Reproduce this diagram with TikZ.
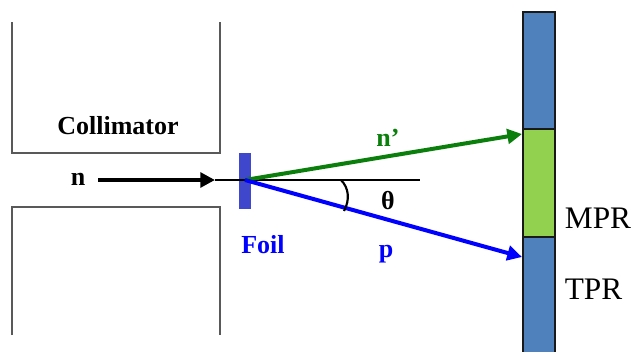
\documentclass[tikz,border=0pt]{standalone}
\usepackage{fontspec}
\setmainfont{Liberation Serif}
\usetikzlibrary{arrows.meta}
\definecolor{barblue}{HTML}{4F81BD}
\definecolor{barleaf}{HTML}{92D050}
\definecolor{foilblue}{HTML}{3F48CC}
\definecolor{ngreen}{HTML}{0B7F0B}
\tikzset{
  px/.style={x=0.75pt,y=-0.75pt},
  wall/.style={draw=black!65,line width=0.85pt},
  seg/.style={draw=black!90,line width=1.5pt,inner sep=0pt,minimum width=24pt,anchor=north west},
  ray/.style={line width=3pt,-{Triangle[length=11pt,width=11pt]}},
  lab/.style={font=\bfseries\fontsize{19.5}{21}\selectfont,inner sep=0pt},
  side/.style={font=\fontsize{23.5}{26}\selectfont,inner sep=0pt}
}
\begin{document}
\begin{tikzpicture}[px]
\useasboundingbox (0,0) rectangle (632,351);
\draw[wall] (12,22) -- (12,153) -- (220,153) -- (220,22);
\draw[wall] (12,335) -- (12,207) -- (220,207) -- (220,335);
\node[fill=foilblue,minimum width=8.5pt,minimum height=42pt,inner sep=0pt] (foil) at (245,181) {};
\node[seg,fill=barblue,minimum height=87.75pt] (top) at (522,11) {};
\node[seg,fill=barleaf,minimum height=81pt] (mid) at (522,128) {};
\node[seg,fill=barblue,minimum height=90pt] (bot) at (522,236) {};
\coordinate (hit) at (245,180);
\coordinate (end) at (420,180);
\coordinate (nstart) at (98,180);
\coordinate (nstop) at (215,180);
\coordinate (nhit) at (522,134);
\coordinate (phit) at (522,257);
\coordinate (arcA) at (341,180);
\coordinate (arcB) at (344,211);
\draw[line width=1.6pt] (nstop) -- (end);
\draw[ray,black] (nstart) -- (nstop);
\draw[ray,ngreen] (hit) -- (nhit);
\draw[ray,blue] (hit) -- (phit);
\draw[line width=1.6pt] (arcA) .. controls (349,188) and (350,200) .. (arcB);
\node[lab] (coll) at (118,126) {Collimator};
\node[lab] (nlab) at (78,179) {n};
\node[lab,text=ngreen] (nplab) at (388,138) {n’};
\node[lab] (thlab) at (388,201) {θ};
\node[lab,text=blue] (plab) at (386,254) {p};
\node[lab,text=blue] (foillab) at (263,245) {Foil};
\node[side] (mpr) at (598,218) {MPR};
\node[side] (tpr) at (593.5,289) {TPR};
\end{tikzpicture}
\end{document}
